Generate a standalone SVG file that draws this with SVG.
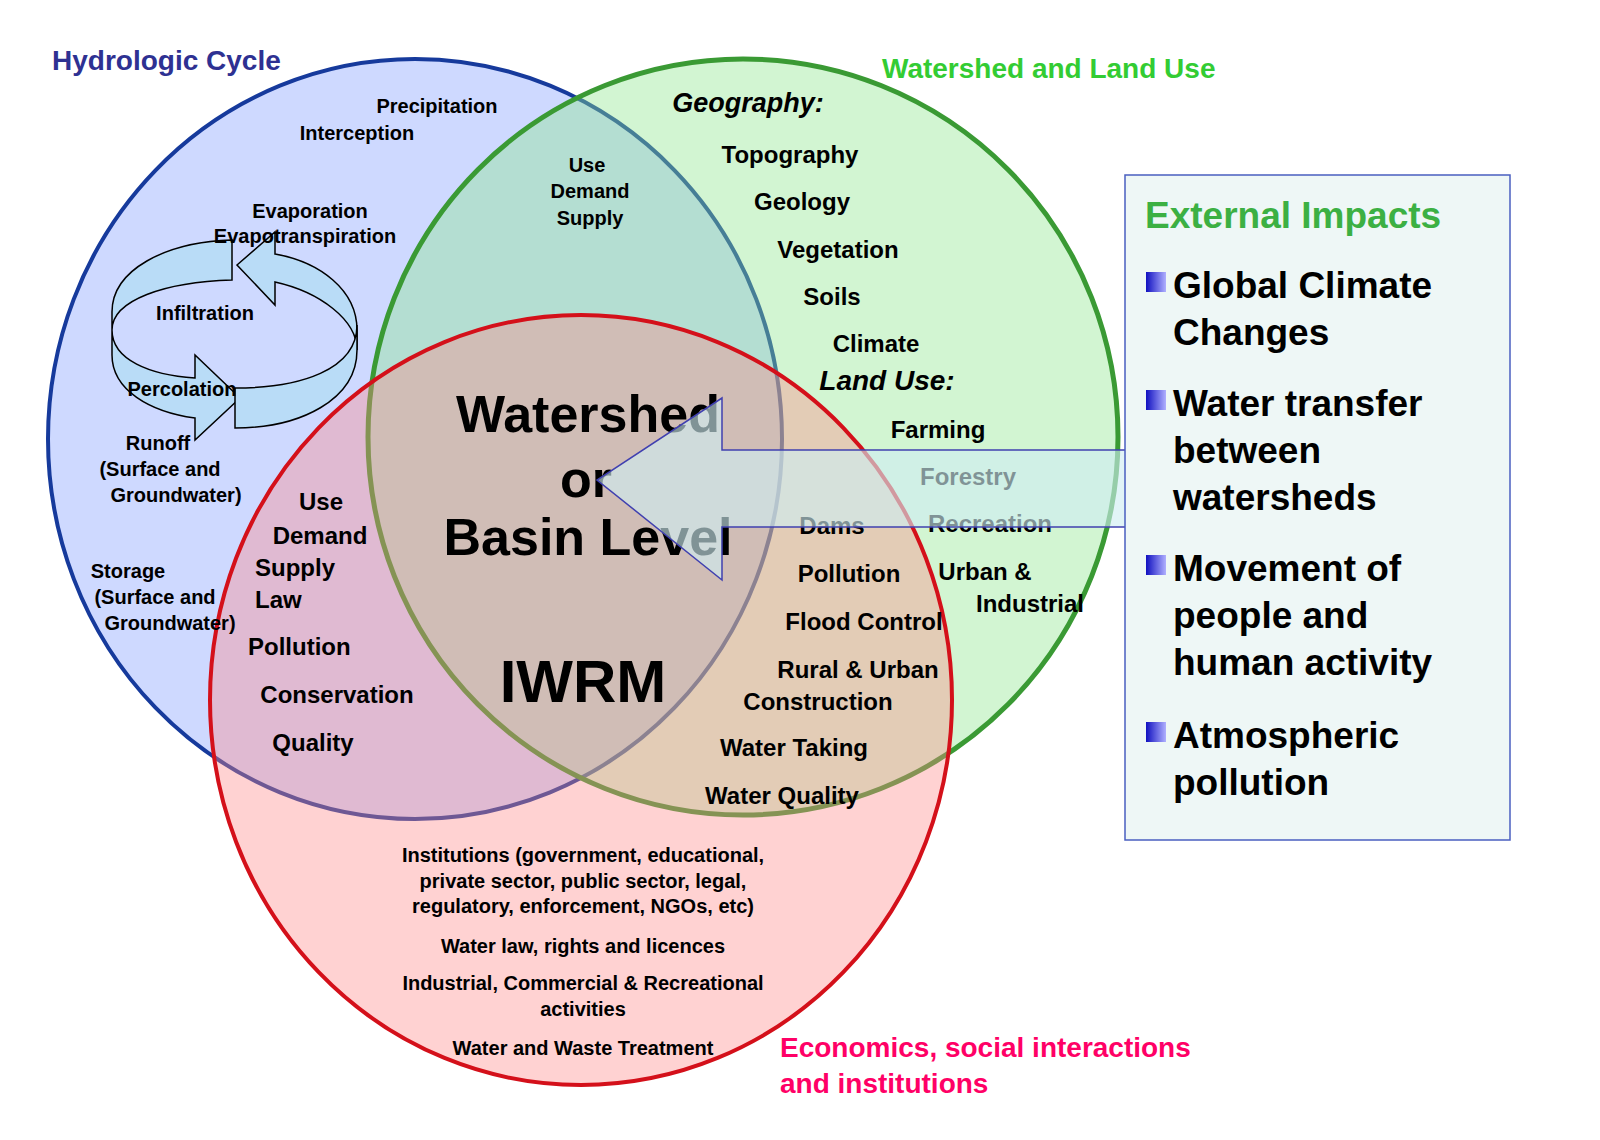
<svg xmlns="http://www.w3.org/2000/svg" width="1600" height="1140" viewBox="0 0 1600 1140">
<style>
text{font-family:"Liberation Sans",Arial,sans-serif;font-weight:bold;fill:#000}
.s{font-size:20px}.m{font-size:24px}.c{text-anchor:middle}
.big{font-size:52px}.ext{font-size:37px}
.cyc{fill:#b9dcf7;stroke:#000;stroke-width:1.5}
</style>
<defs>
<linearGradient id="bul" x1="0" y1="0" x2="1" y2="0"><stop offset="0" stop-color="#1010c0"/><stop offset="1" stop-color="#b0b0ff"/></linearGradient>
</defs>
<g id="circles">
<ellipse cx="415" cy="439" rx="367" ry="380" fill="#7f9cff" fill-opacity="0.38" stroke="#163a9c" stroke-width="4"/>
<ellipse cx="743" cy="437" rx="375" ry="378" fill="#8fe58f" fill-opacity="0.4" stroke="#3a9a34" stroke-width="5"/>
<ellipse cx="581" cy="700" rx="371" ry="385" fill="#ff8a8a" fill-opacity="0.38" stroke="#d4101a" stroke-width="4"/>
</g>
<g id="cycle">
<path class="cyc" d="M232,240 L232,280 C165,282 112,300 112,330 L112,312 C112,270 165,242 232,240 Z"/>
<path class="cyc" d="M357,330 C357,290 320,262 275,254 L275,232 L237,265 L275,305 L275,282 C320,292 357,320 357,350 Z"/>
<path class="cyc" d="M112,330 C112,360 150,375 195,378 L195,355 L240,398 L195,440 L195,418 C150,412 112,390 112,355 Z"/>
<path class="cyc" d="M235,388 C300,388 357,370 357,325 L357,350 C357,400 300,428 235,428 Z"/>
</g>
<g id="titles">
<text x="52" y="70" style="font-size:28px;fill:#2e3192">Hydrologic Cycle</text>
<text x="882" y="78" style="font-size:28px;fill:#33cc33">Watershed and Land Use</text>
<text x="780" y="1057" style="font-size:28px;fill:#ff0066">Economics, social interactions</text>
<text x="780" y="1093" style="font-size:28px;fill:#ff0066">and institutions</text>
</g>
<g id="hydro-text" class="s">
<text class="s c" x="437" y="113">Precipitation</text>
<text class="s c" x="357" y="140">Interception</text>
<text class="s c" x="310" y="218">Evaporation</text>
<text class="s c" x="305" y="243">Evapotranspiration</text>
<text class="s c" x="205" y="320">Infiltration</text>
<text class="s c" x="182" y="396">Percolation</text>
<text class="s c" x="158" y="450">Runoff</text>
<text class="s c" x="160" y="476">(Surface and</text>
<text class="s c" x="176" y="502">Groundwater)</text>
<text class="s c" x="128" y="578">Storage</text>
<text class="s c" x="155" y="604">(Surface and</text>
<text class="s c" x="170" y="630">Groundwater)</text>
<text class="s c" x="587" y="172">Use</text>
<text class="s c" x="590" y="198">Demand</text>
<text class="s c" x="590" y="225">Supply</text>
</g>
<g id="land-text">
<text class="c" x="748" y="112" style="font-size:27px;font-style:italic">Geography:</text>
<text class="m c" x="790" y="163">Topography</text>
<text class="m c" x="802" y="210">Geology</text>
<text class="m c" x="838" y="258">Vegetation</text>
<text class="m c" x="832" y="305">Soils</text>
<text class="m c" x="876" y="352">Climate</text>
<text class="c" x="887" y="390" style="font-size:28px;font-style:italic">Land Use:</text>
<text class="m c" x="938" y="438">Farming</text>
<text class="m c" x="968" y="485">Forestry</text>
<text class="m c" x="990" y="532">Recreation</text>
<text class="m c" x="985" y="580">Urban &amp;</text>
<text class="m c" x="1030" y="612">Industrial</text>
<text class="m c" x="832" y="534">Dams</text>
<text class="m c" x="849" y="582">Pollution</text>
<text class="m c" x="864" y="630">Flood Control</text>
<text class="m c" x="858" y="678">Rural &amp; Urban</text>
<text class="m c" x="818" y="710">Construction</text>
<text class="m c" x="794" y="756">Water Taking</text>
<text class="m c" x="782" y="804">Water Quality</text>
</g>
<g id="econ-text">
<text class="m c" x="321" y="510">Use</text>
<text class="m c" x="320" y="544">Demand</text>
<text class="m" x="255" y="576">Supply</text>
<text class="m" x="255" y="608">Law</text>
<text class="m" x="248" y="655">Pollution</text>
<text class="m c" x="337" y="703">Conservation</text>
<text class="m c" x="313" y="751">Quality</text>
<text class="s c" x="583" y="862">Institutions (government, educational,</text>
<text class="s c" x="583" y="888">private sector, public sector, legal,</text>
<text class="s c" x="583" y="913">regulatory, enforcement, NGOs, etc)</text>
<text class="s c" x="583" y="953">Water law, rights and licences</text>
<text class="s c" x="583" y="990">Industrial, Commercial &amp; Recreational</text>
<text class="s c" x="583" y="1016">activities</text>
<text class="s c" x="583" y="1055">Water and Waste Treatment</text>
</g>
<g id="center">
<text class="big c" x="588" y="432">Watershed</text>
<text class="big c" x="586" y="497">or</text>
<text class="big c" x="588" y="555">Basin Level</text>
<text class="c" x="583" y="702" style="font-size:60px">IWRM</text>
</g>
<g id="connectors">
<path d="M1125,450 L722,450 L722,398 L597,480 L722,580 L722,527 L1125,527" fill="#cfeef2" fill-opacity="0.62" stroke="#4040b0" stroke-width="1.5"/>
</g>
<g id="external">
<rect x="1125" y="175" width="385" height="665" fill="#eef7f6" stroke="#4a5fc0" stroke-width="1.5"/>
<text x="1145" y="228" style="font-size:37px;fill:#3cb043">External Impacts</text>
<rect x="1146" y="272" width="20" height="20" fill="url(#bul)"/>
<text class="ext" x="1173" y="298">Global Climate</text>
<text class="ext" x="1173" y="345">Changes</text>
<rect x="1146" y="390" width="20" height="20" fill="url(#bul)"/>
<text class="ext" x="1173" y="416">Water transfer</text>
<text class="ext" x="1173" y="463">between</text>
<text class="ext" x="1173" y="510">watersheds</text>
<rect x="1146" y="555" width="20" height="20" fill="url(#bul)"/>
<text class="ext" x="1173" y="581">Movement of</text>
<text class="ext" x="1173" y="628">people and</text>
<text class="ext" x="1173" y="675">human activity</text>
<rect x="1146" y="722" width="20" height="20" fill="url(#bul)"/>
<text class="ext" x="1173" y="748">Atmospheric</text>
<text class="ext" x="1173" y="795">pollution</text>
</g>
</svg>
